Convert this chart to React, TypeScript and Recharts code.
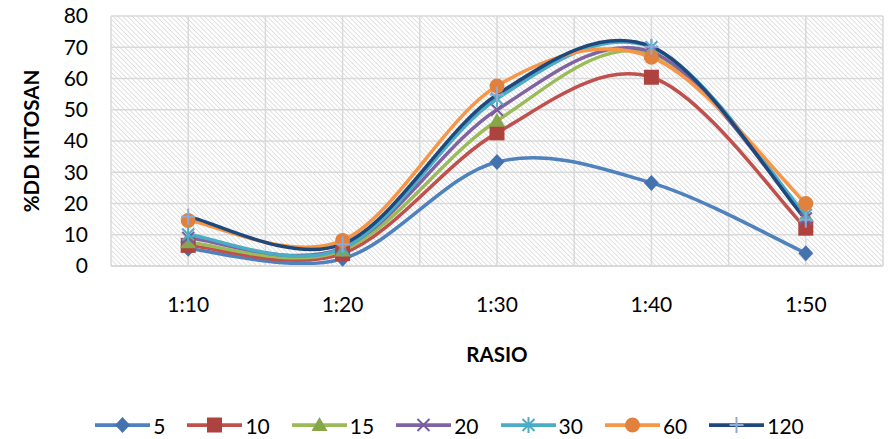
import {CartesianGrid, Label, Legend, Line, LineChart, XAxis, YAxis} from "recharts";

const categories = ['1:10', '1:20', '1:30', '1:40', '1:50'];
const seriesNames = ['5', '10', '15', '20', '30', '60', '120'];
const s5 = [5.5, 2.3, 33.3, 26.6, 4.1];
const s10 = [6.6, 4.0, 42.6, 60.4, 12.1];
const s15 = [7.6, 5.0, 46.5, 68, 16];
const s20 = [9, 5.8, 50, 68.5, 15.2];
const s30 = [10.1, 5.6, 53.5, 70, 16.3];
const s60 = [14.6, 8.2, 57.6, 66.8, 20];
const s120 = [15.8, 7.0, 54.8, 70.2, 14.8];
const yTicks = [0, 10, 20, 30, 40, 50, 60, 70, 80];

const values = [s5, s10, s15, s20, s30, s60, s120];
const lineColors = ['#4F81BD', '#C0504D', '#9BBB59', '#8064A2', '#4BACC6', '#F79646', '#1F497D'];
const markerColors = ['#4472AE', '#AD423F', '#87A54B', '#7A5C9E', '#4BACC6', '#E0823E', '#8DA9D4'];
const shapes = ['diamond', 'square', 'triangle', 'x', 'star', 'circle', 'plus'];

const data = categories.map((c, i) => {
    const row: any = {x: i + 0.5, name: c};
    seriesNames.forEach((n, k) => { row['s' + n] = values[k][i]; });
    return row;
});

// grid every half category, labels only on the category centres
const xTicks = categories.flatMap((_, i) => [i, i + 0.5]).concat(categories.length);

// excel-style smoothing (catmull-rom bezier, 1/6 tangents)
const excelCurve = (context: any) => {
    let pts: number[][] = [];
    return {
        areaStart() {},
        areaEnd() {},
        lineStart() { pts = []; },
        point(x: number, y: number) { pts.push([x, y]); },
        lineEnd() {
            if (!pts.length) return;
            context.moveTo(pts[0][0], pts[0][1]);
            for (let i = 0; i < pts.length - 1; i++) {
                const p0 = pts[Math.max(i - 1, 0)];
                const p1 = pts[i];
                const p2 = pts[i + 1];
                const p3 = pts[Math.min(i + 2, pts.length - 1)];
                context.bezierCurveTo(
                    p1[0] + (p2[0] - p0[0]) / 6, p1[1] + (p2[1] - p0[1]) / 6,
                    p2[0] - (p3[0] - p1[0]) / 6, p2[1] - (p3[1] - p1[1]) / 6,
                    p2[0], p2[1]);
            }
        },
    };
};

const Marker = ({cx, cy, shape, color}: any) => {
    if (shape === 'diamond') {
        return <polygon points={`${cx},${cy - 8} ${cx + 7.5},${cy} ${cx},${cy + 8} ${cx - 7.5},${cy}`} fill={color} />;
    }
    if (shape === 'square') {
        return <rect x={cx - 7.5} y={cy - 7.5} width={15} height={15} fill={color} />;
    }
    if (shape === 'triangle') {
        return <polygon points={`${cx},${cy - 8} ${cx + 8},${cy + 6} ${cx - 8},${cy + 6}`} fill={color} />;
    }
    if (shape === 'circle') {
        return <circle cx={cx} cy={cy} r={7.5} fill={color} />;
    }
    if (shape === 'x') {
        return <path d={`M${cx - 6},${cy - 6}L${cx + 6},${cy + 6}M${cx - 6},${cy + 6}L${cx + 6},${cy - 6}`} stroke={color} strokeWidth={2} />;
    }
    if (shape === 'star') {
        return <path d={`M${cx - 6},${cy - 6}L${cx + 6},${cy + 6}M${cx - 6},${cy + 6}L${cx + 6},${cy - 6}M${cx},${cy - 8}L${cx},${cy + 8}`} stroke={color} strokeWidth={2} />;
    }
    return <path d={`M${cx - 7},${cy}L${cx + 7},${cy}M${cx},${cy - 8}L${cx},${cy + 8}`} stroke={color} strokeWidth={2} />;
};

const renderLegend = () => (
    <div style={{display: 'flex', justifyContent: 'center', alignItems: 'center', height: 34, paddingTop: 6,
        paddingLeft: 10, boxSizing: 'border-box', fontFamily: 'Lato', fontSize: 21, color: '#000'}}>
        {seriesNames.map((n, k) => (
            <div key={n} style={{display: 'flex', alignItems: 'center', marginRight: k < seriesNames.length - 1 ? 22 : 0}}>
                <svg width={55} height={20}>
                    <line x1={1} y1={10} x2={54} y2={10} stroke={lineColors[k]} strokeWidth={3.75} strokeLinecap="round" />
                    <Marker cx={27.5} cy={10} shape={shapes[k]} color={markerColors[k]} />
                </svg>
                <span style={{marginLeft: 3}}>{n}</span>
            </div>
        ))}
    </div>
);

const tickStyle = {fontFamily: 'Lato', fontSize: 21, fill: '#000'};
const titleStyle = {fontFamily: 'Lato', fontSize: 20.5, fontWeight: 'bold', fill: '#000'};

export default function App() {
    return (
        <div style={{position: 'absolute', left: 0, top: 0}}>
            <LineChart width={889} height={439} data={data} margin={{top: 16, right: 6, left: 41, bottom: 0}}>
                <defs>
                    <pattern id="hatch" width={3.4} height={3.4} patternUnits="userSpaceOnUse" patternTransform="rotate(-45)">
                        <rect width={3.4} height={3.4} fill="#ffffff" />
                        <line x1={0} y1={0} x2={0} y2={3.4} stroke="#d2d2d2" strokeWidth={1.3} />
                    </pattern>
                </defs>
                <CartesianGrid stroke="#d9d9d9" strokeWidth={1.5} fill="url(#hatch)" fillOpacity={1} />
                <XAxis type="number" dataKey="x" domain={[0, categories.length]} ticks={xTicks} interval={0}
                       tickFormatter={(v: number) => (Number.isInteger(v - 0.5) ? categories[v - 0.5] : '')}
                       tick={tickStyle} tickLine={false} tickSize={0} tickMargin={31} height={139}
                       axisLine={{stroke: '#d9d9d9', strokeWidth: 2}}>
                    <Label value="RASIO" position="center" dy={19} style={titleStyle} />
                </XAxis>
                <YAxis domain={[0, 80]} ticks={yTicks} interval={0} tick={tickStyle} tickLine={false} axisLine={false}
                       tickSize={0} tickMargin={23} width={70}>
                    <Label value="%DD KITOSAN" position="center" angle={-90} dx={-44} style={titleStyle} />
                </YAxis>
                <Legend verticalAlign="bottom" content={renderLegend} wrapperStyle={{left: 0, width: 889}} />
                {seriesNames.map((n, k) => (
                    <Line key={n} dataKey={'s' + n} type={excelCurve as any} stroke={lineColors[k]} strokeWidth={3.5}
                          isAnimationActive={false} activeDot={false}
                          dot={(p: any) => <Marker key={`${n}-${p.index}`} cx={p.cx} cy={p.cy} shape={shapes[k]} color={markerColors[k]} />} />
                ))}
            </LineChart>
        </div>
    );
}
